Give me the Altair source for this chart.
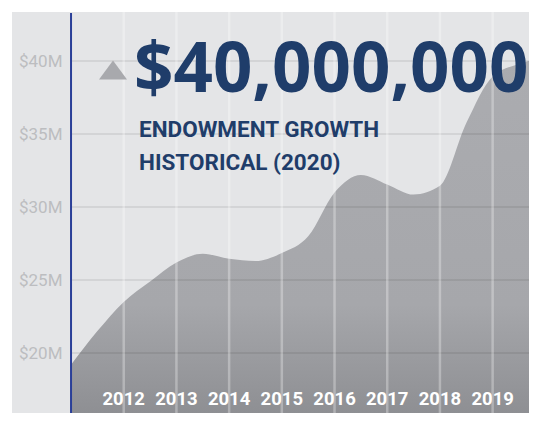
import altair as alt
import pandas as pd

# ---- data ----
years = [2011.0, 2011.5, 2012.0, 2012.5, 2013.0, 2013.5, 2014.0, 2014.5, 2015.0, 2015.5,
         2016.0, 2016.5, 2017.0, 2017.5, 2018.0, 2018.5, 2019.0, 2019.5, 2020.0]
values_m = [19.2, 21.5, 23.5, 24.9, 26.2, 26.8, 26.45, 26.3, 26.85, 28.0,
            31.0, 32.2, 31.55, 30.85, 31.45, 35.75, 38.95, 39.8, 40.2]
tick_years = [2012, 2013, 2014, 2015, 2016, 2017, 2018, 2019]
year_labels = ["2012", "2013", "2014", "2015", "2016", "2017", "2018", "2019"]
y_ticks = [20, 25, 30, 35, 40]
headline = ["$40,000,000"]
subtitle_1 = ["ENDOWMENT GROWTH"]
subtitle_2 = ["HISTORICAL (2020)"]

# ---- layout ----
W, H = 517, 401
XMIN, XMAX = 2009.88, 2019.69
YMIN, YMAX = 15.89, 43.36
NAVY = "#1f3d6a"
COND = "Roboto"

xs = alt.Scale(domain=[XMIN, XMAX], nice=False, zero=False)
ys = alt.Scale(domain=[YMIN, YMAX], nice=False, zero=False)

df = pd.DataFrame({"year": years, "value": values_m})
df_years = pd.DataFrame({"year": tick_years, "label": year_labels})
df_yt = pd.DataFrame({"value": y_ticks})

grad = alt.Gradient(
    gradient="linear",
    stops=[alt.GradientStop(color="#abacb0", offset=0),
           alt.GradientStop(color="#a6a7ab", offset=0.42),
           alt.GradientStop(color="#5b5c60", offset=1)],
    x1=0, x2=0, y1=0, y2=1,
)

panel = alt.Chart(pd.DataFrame({"a": [0]})).mark_rect(color="#e4e5e7").encode(
    x=alt.value(0), x2=alt.X2(datum=2011), y=alt.value(0), y2=alt.value(H)
)

area = alt.Chart(df).mark_area(interpolate="monotone", clip=True, color=grad).encode(
    x=alt.X("year:Q", scale=xs, axis=None),
    y=alt.Y("value:Q", scale=ys, axis=alt.Axis(
        orient="left", offset=-59, values=y_ticks, labelExpr="'$' + datum.value + 'M'",
        grid=False, ticks=False, domain=False, title=None, zindex=1,
        labelFont=COND, labelFontSize=17, labelColor="#bcbdc0",
        labelPadding=9)),
)

hgrid = alt.Chart(df_yt).mark_rule(color="#000000", opacity=0.07, strokeWidth=2).encode(
    y=alt.Y("value:Q", scale=ys), x=alt.datum(2011, scale=xs), x2=alt.value(W)
)
vgrid = alt.Chart(df_years).mark_rule(color="#ffffff", opacity=0.3, strokeWidth=2.5).encode(
    x=alt.X("year:Q", scale=xs), y=alt.value(0), y2=alt.value(H)
)
blue = alt.Chart(pd.DataFrame({"a": [0]})).mark_rule(color="#2a3f98", strokeWidth=2).encode(
    x=alt.datum(2011, scale=xs), y=alt.value(1), y2=alt.value(H)
)
tri = alt.Chart(pd.DataFrame({"a": [0]})).mark_point(
    shape="M0,-0.68L1,0.68L-1,0.68Z", filled=True, color="#a8a9ad", opacity=1, size=784
).encode(x=alt.value(101), y=alt.value(58))

title1 = alt.Chart(pd.DataFrame({"t": headline})).mark_text(
    font="Open Sans", fontWeight="bold", fontSize=69, color=NAVY, align="left", baseline="alphabetic"
).encode(text="t:N", x=alt.value(122), y=alt.value(80))
sub1 = alt.Chart(pd.DataFrame({"t": subtitle_1})).mark_text(
    font=COND, fontWeight="bold", fontSize=22.5, color=NAVY, align="left", baseline="alphabetic"
).encode(text="t:N", x=alt.value(127), y=alt.value(125))
sub2 = alt.Chart(pd.DataFrame({"t": subtitle_2})).mark_text(
    font=COND, fontWeight="bold", fontSize=22.5, color=NAVY, align="left", baseline="alphabetic"
).encode(text="t:N", x=alt.value(127), y=alt.value(158))

ylab = alt.Chart(df_years).mark_text(
    font=COND, fontWeight="bold", fontSize=18.5, color="#ffffff", baseline="middle"
).encode(x=alt.X("year:Q", scale=xs), y=alt.value(387), text="label:N")

chart = alt.layer(panel, area, hgrid, vgrid, blue, tri, title1, sub1, sub2, ylab).properties(
    width=W, height=H,
    padding={"left": 4, "top": 4, "right": 0, "bottom": 0},
    autosize=alt.AutoSizeParams(type="none"),
    background="#ffffff",
).configure_view(fill="#ebecee", stroke=None)

chart.save("out.html", embed_options={"renderer": "svg", "actions": False})
